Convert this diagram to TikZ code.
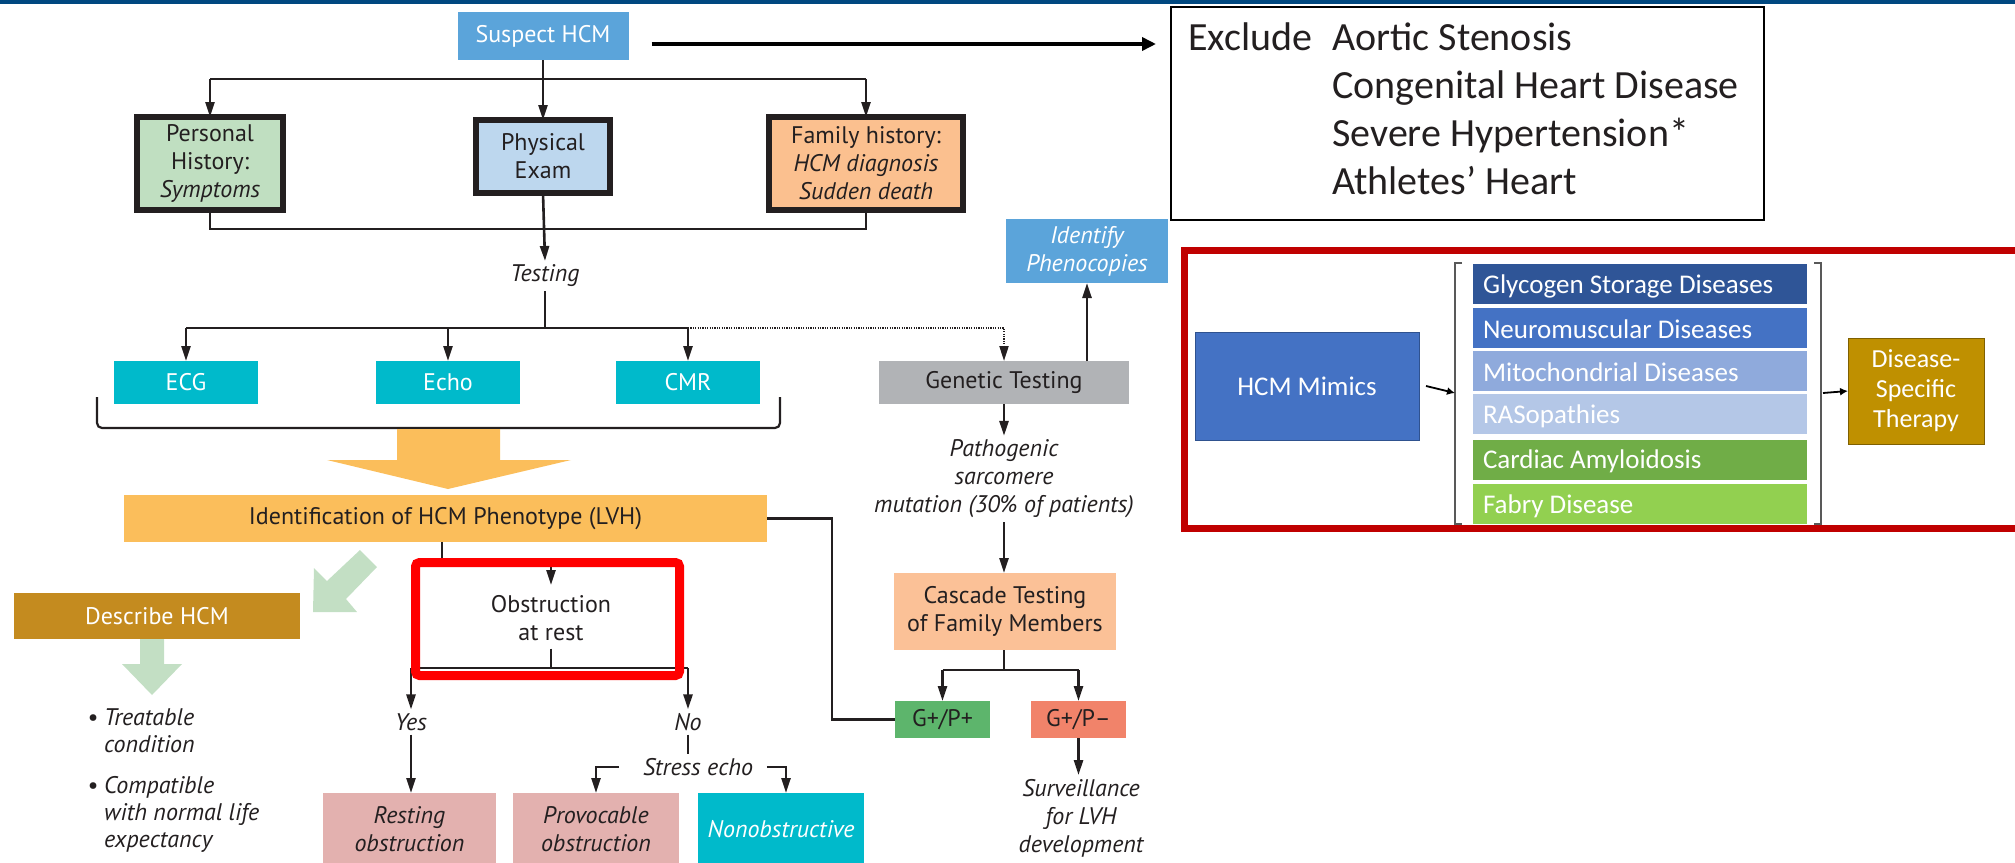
\documentclass[tikz,border=0pt]{standalone}
\usepackage{fontspec}
\setmainfont{PT Sans}
\newfontfamily\calfont{Carlito}
\usetikzlibrary{arrows.meta}

\definecolor{ink}{HTML}{231F20}
\definecolor{topbar}{HTML}{004880}
\definecolor{sky}{HTML}{5BA4DA}
\definecolor{mint}{HTML}{C0DFC1}
\definecolor{iceblue}{HTML}{BDD7EE}
\definecolor{peach}{HTML}{FBC08F}
\definecolor{cyanbox}{HTML}{00BACB}
\definecolor{stone}{HTML}{B1B3B6}
\definecolor{amber}{HTML}{FBBE5B}
\definecolor{ochre}{HTML}{C48B1F}
\definecolor{sage}{HTML}{C3DFC4}
\definecolor{blush}{HTML}{E3B1AF}
\definecolor{apricot}{HTML}{FBC197}
\definecolor{leaf}{HTML}{5DB56C}
\definecolor{coral}{HTML}{F1836A}
\definecolor{alarm}{HTML}{FF0000}
\definecolor{crimson}{HTML}{C00000}
\definecolor{navyA}{HTML}{2F5597}
\definecolor{royal}{HTML}{4472C4}
\definecolor{royaledge}{HTML}{2F528F}
\definecolor{periw}{HTML}{8FAADC}
\definecolor{paleblue}{HTML}{B4C7E7}
\definecolor{grass}{HTML}{70AD47}
\definecolor{limebox}{HTML}{92D050}
\definecolor{mustard}{HTML}{BF9000}
\definecolor{mustardedge}{HTML}{7F6000}
\definecolor{bracketgray}{HTML}{595959}

\newcommand\mainsz{\fontsize{24}{28}\selectfont}

\tikzset{
  conn/.style={draw=ink, line width=2.6pt},
  arr/.style={conn, -{Triangle[length=15pt,width=9pt]}},
  dotarr/.style={draw=ink, line width=2pt, dash pattern=on 1.2pt off 1.2pt,
                 -{Triangle[length=15pt,width=9pt]}},
  thinarr/.style={draw=black, line width=1.8pt, -{Latex[length=8pt,width=8pt]}},
  lbl/.style={inner sep=4pt},
  heavybox/.style={draw=ink, line width=6pt},
  listbox/.style={minimum width=334pt, minimum height=40pt},
  listtext/.style={anchor=west, text=white, font=\calfont\fontsize{27}{30}\selectfont},
}

\begin{document}
\begin{tikzpicture}[x=1pt,y=-1pt,
  every node/.style={inner sep=0pt, outer sep=0pt, text=ink, align=center, font=\mainsz}]
\useasboundingbox (0,0) rectangle (2015,862);
\begin{scope}
\clip (0,0) rectangle (2015,862);

% banner strip
\fill[topbar] (0,0) rectangle (2015,3.5);

% ---------- first tier ----------
\node[fill=sky, text=white, minimum width=171pt, minimum height=48pt] (suspect) at (543,36) {Suspect HCM};
\node[heavybox, fill=mint, minimum width=146pt, minimum height=93pt] (personal) at (210,163.5)
  {Personal\\History:\\\textit{Symptoms}};
\node[heavybox, fill=iceblue, minimum width=134pt, minimum height=73pt] (physical) at (543,156.5)
  {Physical\\Exam};
\node[heavybox, fill=peach, minimum width=194pt, minimum height=93pt] (family) at (866,163.5)
  {Family history:\\\textit{HCM diagnosis}\\\textit{Sudden death}};

\coordinate (split1) at (543,79);
\draw[arr] (suspect.south) -- (physical.north);
\draw[conn] (split1 -| personal.north) -- (split1 -| family.north);
\draw[arr] (split1 -| personal.north) -- (personal.north);
\draw[arr] (split1 -| family.north) -- (family.north);

\node[lbl, font=\mainsz\itshape] (testing) at (545,276) {Testing};
\coordinate (join1) at (543,229);
\draw[conn] (personal.south) |- (join1) -| (family.south);
\draw[arr] (physical.south) -- (testing.north);

% ---------- exclusions ----------
\node[draw=black, line width=1.5pt, minimum width=593pt, minimum height=213pt] (exclude) at (1467.5,113.5) {};
\begin{scope}[every node/.style={inner sep=0pt, text=ink, font=\calfont\fontsize{40}{48}\selectfont, anchor=base west}]
  \node (exw) at (1188,50) {Exclude};
  \node (ex1) at (1332,50) {Aortic Stenosis};
  \node (ex2) at (1332,98) {Congenital Heart Disease};
  \node (ex3) at (1332,146) {Severe Hypertension*};
  \node (ex4) at (1332,194) {Athletes’ Heart};
\end{scope}
\path (suspect.east) ++(23,8) coordinate (xa);
\coordinate (xb) at (1156,44);
\draw[draw=black, line width=4.5pt, -{Triangle[length=14pt,width=13pt]}] (xa) -- (xb);

% ---------- testing tier ----------
\node[fill=cyanbox, text=white, minimum width=144pt, minimum height=43pt] (ecg) at (186,382.5) {ECG};
\node[fill=cyanbox, text=white, minimum width=144pt, minimum height=43pt] (echo) at (448,382.5) {Echo};
\node[fill=cyanbox, text=white, minimum width=144pt, minimum height=43pt] (cmr) at (688,382.5) {CMR};
\node[fill=stone, minimum width=250pt, minimum height=43pt] (genetic) at (1004,382.5) {Genetic Testing};
\node[fill=sky, text=white, font=\mainsz\itshape, minimum width=162pt, minimum height=64pt] (pheno) at (1087,251)
  {Identify\\Phenocopies};

\coordinate (split2) at (545,328);
\draw[conn] (testing.south) -- (split2);
\draw[conn] (split2 -| ecg.north) -- (split2 -| cmr.north);
\draw[arr] (split2 -| ecg.north) -- (ecg.north);
\draw[arr] (split2 -| echo.north) -- (echo.north);
\draw[arr] (split2 -| cmr.north) -- (cmr.north);
\draw[dotarr] (split2 -| cmr.north) -| (genetic.north);
\draw[arr] (genetic.north -| pheno.south) -- (pheno.south);

% bracket gathering the imaging tests
\coordinate (brA) at (97,397);
\coordinate (brB) at (780,397);
\draw[draw=ink, line width=2.2pt, rounded corners=5pt] (brA) -- (97,428) -- (780,428) -- (brB);

% broad arrow to phenotype
\fill[amber] (397,429) -- (500,429) -- (500,460) -- (571,460) -- (448,489) -- (327,460) -- (397,460) -- cycle;

\node[fill=amber, minimum width=643pt, minimum height=47pt] (ident) at (445.5,518.5)
  {Identification of HCM Phenotype (LVH)};

% ---------- genetic branch ----------
\node[lbl, font=\mainsz\itshape] (patho) at (1004,479) {Pathogenic\\sarcomere\\mutation (30\% of patients)};
\draw[arr] (genetic.south) -- (patho.north);
\node[fill=apricot, minimum width=222pt, minimum height=77pt] (cascade) at (1005,611.5)
  {Cascade Testing\\of Family Members};
\draw[arr] (patho.south) -- (patho.south |- cascade.north);
\node[fill=leaf, minimum width=95pt, minimum height=37pt] (gpp) at (942.5,719.5) {G+/P+};
\node[fill=coral, minimum width=95pt, minimum height=37pt] (gpm) at (1078.5,719.5) {G+/P–};
\coordinate (split4) at (1004,670);
\draw[conn] (cascade.south -| split4) -- (split4);
\draw[conn] (split4 -| gpp.north) -- (split4 -| gpm.north);
\draw[arr] (split4 -| gpp.north) -- (gpp.north);
\draw[arr] (split4 -| gpm.north) -- (gpm.north);
\node[lbl, font=\mainsz\itshape] (surv) at (1081,818) {Surveillance\\for LVH\\development};
\draw[arr] (gpm.south) -- (gpm.south |- surv.north);
\draw[conn] (ident.east) -- ++(65,0) |- (gpp.west);

% ---------- describe HCM ----------
\node[fill=ochre, text=white, minimum width=286pt, minimum height=46pt] (describe) at (157,616) {Describe HCM};
\fill[sage] (377,567) -- (360,550) -- (327,581) -- (314,568) -- (313,612) -- (357,612) -- (346,599) -- cycle;
\fill[sage] (140,639) -- (164,639) -- (164,664) -- (182,664) -- (152,695) -- (122,664) -- (140,664) -- cycle;
\begin{scope}[every node/.style={inner sep=0pt, text=ink, font=\mainsz\itshape, anchor=base west}]
  \node (bu1) at (87,725) {•};
  \node (t1a) at (104,725) {Treatable};
  \node (t1b) at (104,752) {condition};
  \node (bu2) at (87,793) {•};
  \node (t2a) at (104,793) {Compatible};
  \node (t2b) at (104,820) {with normal life};
  \node (t2c) at (104,847) {expectancy};
\end{scope}

% ---------- obstruction ----------
\node (obs) at (551,618) {Obstruction\\at rest};
\draw[conn] ([xshift=-3.5pt]ident.south) -- ++(0,20) coordinate (obsA) -- (obsA -| obs.north);
\draw[arr] (obsA -| obs.north) -- ++(0,23);
\coordinate (split3) at (551,668);
\node[lbl, font=\mainsz\itshape] (yes) at (411,722) {Yes};
\node[lbl, font=\mainsz\itshape] (no) at (688,722) {No};
\draw[conn] (obs.south) ++(0,8) -- (split3);
\draw[conn] (split3 -| yes.north) -- (split3 -| no.north);
\draw[arr] (split3 -| yes.north) -- (yes.north);
\draw[arr] (split3 -| no.north) -- (no.north);

\node[fill=blush, font=\mainsz\itshape, minimum width=173pt, minimum height=73pt] (resting) at (409.5,829.5)
  {Resting\\obstruction};
\node[fill=blush, font=\mainsz\itshape, minimum width=166pt, minimum height=73pt] (provoc) at (596,829.5)
  {Provocable\\obstruction};
\node[fill=cyanbox, text=white, font=\mainsz\itshape, minimum width=166pt, minimum height=73pt] (nonobs) at (781,829.5)
  {Nonobstructive};
\node[lbl, font=\mainsz\itshape] (stress) at (698,767) {Stress echo};

\draw[arr] (yes.south) -- (yes.south |- resting.north);
\draw[conn] (no.south) -- (no.south |- stress.north);
\draw[arr] ([xshift=-20pt]stress.west) -| (provoc.north);
\draw[arr] ([xshift=10pt]stress.east) -| ([xshift=5pt]nonobs.north);

\node[draw=alarm, line width=9pt, rounded corners=4pt, minimum width=264pt, minimum height=113pt] (obsframe)
  at (547.5,619) {};

% ---------- HCM mimics panel ----------
\draw[draw=crimson, line width=7pt] (1184.5,250.5) rectangle (2040,528.5);
\node[fill=royal, draw=royaledge, line width=1pt, text=white, font=\calfont\fontsize{27}{32}\selectfont,
      minimum width=224pt, minimum height=108pt] (mimics) at (1307,386) {HCM Mimics};
\node[listbox, fill=navyA] (gsd) at (1640,284) {};
\node[listbox, fill=royal] (nmd) at (1640,327.5) {};
\node[listbox, fill=periw] (mito) at (1640,370.5) {};
\node[listbox, fill=paleblue] (ras) at (1640,414) {};
\node[listbox, fill=grass] (amyl) at (1640,459.5) {};
\node[listbox, fill=limebox] (fabry) at (1640,504) {};
\node[listtext] (gsdt) at ([xshift=10pt,yshift=-2pt]gsd.west) {Glycogen Storage Diseases};
\node[listtext] (nmdt) at ([xshift=10pt,yshift=-2pt]nmd.west) {Neuromuscular Diseases};
\node[listtext] (mitot) at ([xshift=10pt,yshift=-2pt]mito.west) {Mitochondrial Diseases};
\node[listtext] (rast) at ([xshift=10pt,yshift=-2pt]ras.west) {RASopathies};
\node[listtext] (amylt) at ([xshift=10pt,yshift=-2pt]amyl.west) {Cardiac Amyloidosis};
\node[listtext] (fabryt) at ([xshift=10pt,yshift=-2pt]fabry.west) {Fabry Disease};
\coordinate (brkL) at (1455,393);
\coordinate (brkR) at (1821,393);
\draw[draw=bracketgray, line width=2pt] (1462,263) -- (1455,263) -- (1455,524) -- (1462,524);
\draw[draw=bracketgray, line width=2pt] (1814,263) -- (1821,263) -- (1821,524) -- (1814,524);
\node[fill=mustard, draw=mustardedge, line width=1pt, text=white, font=\calfont\fontsize{26}{30}\selectfont,
      minimum width=136pt, minimum height=106pt] (therapy) at (1916,391) {Disease-\\Specific\\Therapy};
\draw[thinarr] ([xshift=7pt]mimics.east) -- (brkL);
\draw[thinarr] ([xshift=2pt]brkR) -- (therapy.west);
\end{scope}
\end{tikzpicture}
\end{document}
